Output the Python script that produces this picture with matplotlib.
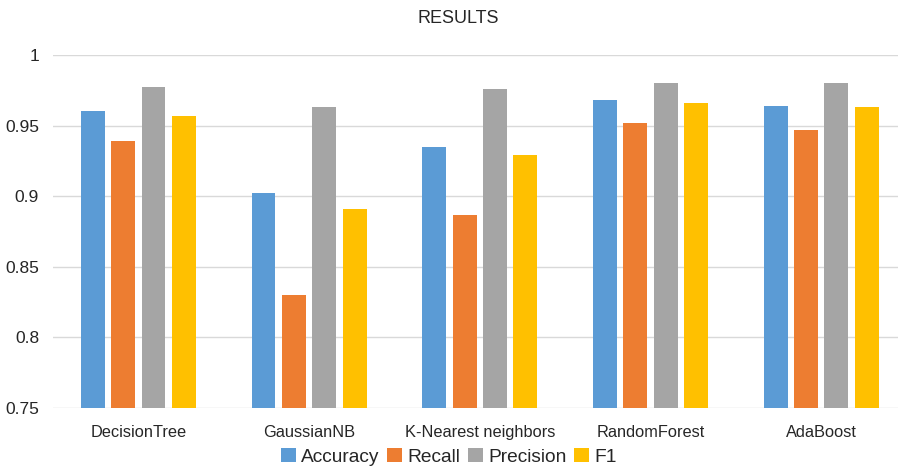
import numpy as np
import matplotlib.pyplot as plt
from matplotlib.ticker import FuncFormatter

plt.rcParams['font.family'] = ['Liberation Sans', 'DejaVu Sans']

# data
models = ["DecisionTree", "GaussianNB", "K-Nearest neighbors", "RandomForest", "AdaBoost"]
metrics = ["Accuracy", "Recall", "Precision", "F1"]
accuracy = [0.960, 0.902, 0.935, 0.968, 0.964]
recall = [0.939, 0.830, 0.887, 0.952, 0.947]
precision = [0.977, 0.963, 0.976, 0.980, 0.980]
f1 = [0.957, 0.891, 0.929, 0.966, 0.963]
colors = ["#5B9BD5", "#ED7D31", "#A5A5A5", "#FFC000"]

fig = plt.figure(figsize=(8.98, 4.67), dpi=100)
ax = fig.add_axes([0.059, 0.1263, 0.941, 0.7559])

x = np.arange(len(models))
step = 0.178
width = 0.14
for i, (vals, name) in enumerate(zip([accuracy, recall, precision, f1], metrics)):
    ax.bar(x + (i - 1.5) * step, vals, width, color=colors[i], label=name, zorder=3)

ax.set_ylim(0.75, 1.0)
ax.set_xlim(-0.5, 4.45)
ax.set_yticks([0.75, 0.8, 0.85, 0.9, 0.95, 1.0])
ax.yaxis.set_major_formatter(FuncFormatter(lambda v, p: f"{v:.2f}".rstrip("0").rstrip(".")))
ax.set_xticks(x)
ax.set_xticklabels(models, fontsize=11.8, color="#262626")
ax.tick_params(axis="y", labelsize=12.5, colors="#262626", length=0, pad=10)
ax.tick_params(axis="x", length=0, pad=12)
ax.grid(axis="y", color="#D9D9D9", linewidth=1, zorder=0)
for s in ax.spines.values():
    s.set_visible(False)

fig.text(0.51, 0.96, "RESULTS", ha="center", va="center", fontsize=13, color="#262626")
fig.legend(loc="center", bbox_to_anchor=(0.5, 0.022), ncol=4, frameon=False,
           fontsize=13.8, handlelength=0.75, handleheight=0.75, handletextpad=0.3,
           columnspacing=0.4, labelcolor="#262626")

fig.savefig("out.png", dpi=100)
